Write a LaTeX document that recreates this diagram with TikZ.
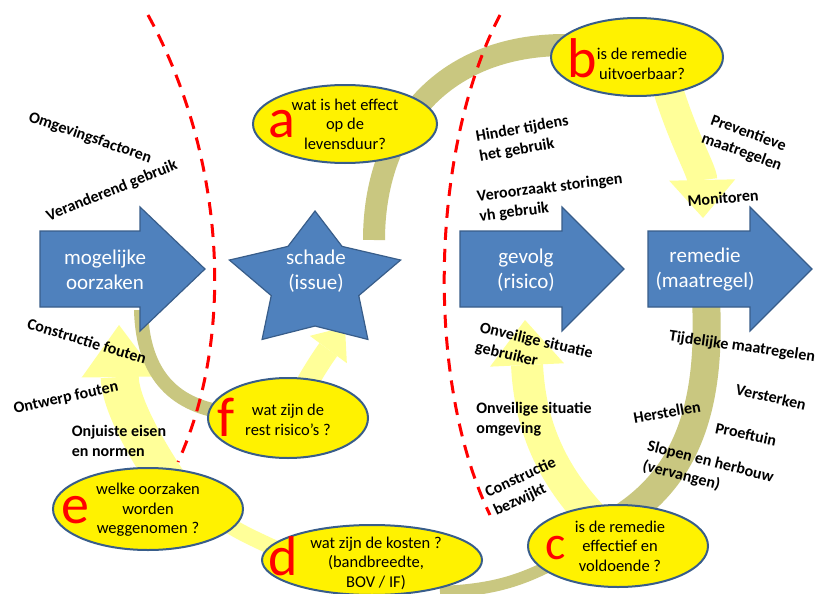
\documentclass[tikz,border=0pt]{standalone}
\usepackage{fontspec}
\setmainfont{Carlito}
\usepackage{tikz}
\usetikzlibrary{positioning}
\usetikzlibrary{arrows.meta, shapes.geometric, calc}

\definecolor{arrowblue}{RGB}{79,129,189}
\definecolor{arrowline}{RGB}{56,93,138}
\definecolor{bandolive}{RGB}{201,199,128}
\definecolor{paleyellow}{RGB}{255,255,153}

\begin{document}
\begin{tikzpicture}[x=1pt, y=-1pt,
	question/.style={ellipse, draw=arrowline, line width=2pt, fill=yellow, inner sep=0pt},
	asktext/.style={align=center, inner sep=0pt, font=\fontsize{16.5}{19.5}\selectfont},
	letter/.style={text=red, inner sep=0pt, font=\fontsize{56}{56}\selectfont},
	cause/.style={align=left, inner sep=0pt, font=\bfseries\fontsize{16}{20}\selectfont},
	blueshape/.style={draw=arrowline, fill=arrowblue, line width=1.2pt},
	bluetext/.style={text=white, align=center, font=\fontsize{21}{25}\selectfont},
	band/.style={draw=bandolive, line width=#1},
	flow/.style={draw=paleyellow, line width=#1},
	divider/.style={draw=red, line width=3pt, dash pattern=on 13pt off 9pt}]
	
	\path[use as bounding box, fill=white] (0,0) rectangle (819,594);
	
	% pale flows
	\draw[flow=30pt, -{Triangle[length=38pt, width=66pt, line width=0pt]}] (665,80) .. controls (683,140) and (702,170) .. (703,218);
	\draw[flow=32pt, -{Triangle[length=45pt, width=74pt, line width=0pt]}] (600,525) .. controls (555,480) and (530,430) .. (525,320);
	\draw[flow=38pt, -{Triangle[length=52pt, width=76pt, line width=0pt]}] (170,485) .. controls (140,440) and (120,400) .. (119,325);
	\draw[flow=22pt, -{Triangle[length=28pt, width=46pt, line width=0pt]}] (298,400) .. controls (312,372) and (328,350) .. (345,327);
	\draw[flow=16pt] (200,505) .. controls (235,530) .. (285,553);
	
	% olive bands
	\draw[band=22pt] (374,240) .. controls (374,130) and (440,45) .. (565,45);
	\draw[band=28pt] (706,300) .. controls (712,420) and (680,490) .. (600,530);
	\draw[band=14pt] (141,310) .. controls (143,385) and (185,408) .. (230,413);
	\draw[band=12pt] (560,560) .. controls (520,582) and (490,590) .. (440,592);
	
	% dashed borders
	\draw[divider] (148,15) .. controls (222,150) and (238,330) .. (178,462);
	\draw[divider] (500,15) .. controls (430,150) and (425,380) .. (490,515);
	
	% blue arrows and star
	\draw[blueshape] (40,231) -- (140,231) -- (140,207) -- (205,269) -- (140,331) -- (140,307) -- (40,307) -- cycle;
	\draw[blueshape] (460,231) -- (562,231) -- (562,207) -- (624,269) -- (562,331) -- (562,307) -- (460,307) -- cycle;
	\draw[blueshape] (648,231) -- (750,231) -- (750,207) -- (812,269) -- (750,331) -- (750,307) -- (648,307) -- cycle;
	\coordinate (sc) at (315,282);
	\draw[blueshape] ($(sc)+(90:90pt and 71pt)$)
		\foreach \a/\rx/\ry in {126/46/44, 162/90/71, 198/46/44, 234/90/71, 270/46/44, 306/90/71, 342/46/44, 18/90/71, 54/46/44}
		{ -- ($(sc)+(\a:\rx pt and \ry pt)$) } -- cycle;
	
	\node[bluetext] (cause) at (105,270) {mogelijke\\oorzaken};
	\node[bluetext] (issue) at (316,271) {schade\\(issue)};
	\node[bluetext] (risk) at (526,270) {gevolg\\(risico)};
	\node[bluetext] (remedy) at (705,270) {remedie\\(maatregel)};
	
	% questions
	\node[question, minimum width=184pt, minimum height=78pt] (qa) at (345,124) {};
	\node[question, minimum width=172pt, minimum height=78pt] (qb) at (637,57) {};
	\node[question, minimum width=180pt, minimum height=82pt] (qc) at (618,546) {};
	\node[question, minimum width=220pt, minimum height=70pt] (qd) at (372,560) {};
	\node[question, minimum width=190pt, minimum height=82pt] (qe) at (148,509) {};
	\node[question, minimum width=160pt, minimum height=80pt] (qf) at (288,418) {};
	
	\node[asktext] (qatext) at (345,124) {wat is het effect\\op de\\levensduur?};
	\node[asktext] (qbtext) at (642,64) {is de remedie\\uitvoerbaar?};
	\node[asktext] (qctext) at (620,546) {is de remedie\\effectief en\\voldoende ?};
	\node[asktext] (qdtext) at (376,563) {wat zijn de kosten ?\\(bandbreedte,\\BOV / IF)};
	\node[asktext] (qetext) at (148,510) {welke oorzaken\\worden\\weggenomen ?};
	\node[asktext] (qftext) at (288,420) {wat zijn de\\rest risico's ?};
	
	\node[letter] (la) at (282,124) {a};
	\node[letter] (lb) at (582,58) {b};
	\node[letter, font=\fontsize{48}{48}\selectfont] (lc) at (556,548) {c};
	\node[letter] (ld) at (283,556) {d};
	\node[letter] (le) at (75,510) {e};
	\node[letter] (lf) at (226,417) {f};
	
	% causes, effects and measures
	\node[cause, rotate=-19] (env) at (90,138) {Omgevingsfactoren};
	\node[cause, rotate=22] (use) at (112,191) {Veranderend gebruik};
	\node[cause, rotate=-17] (constr) at (87,341) {Constructie fouten};
	\node[cause, rotate=12] (design) at (66,398) {Ontwerp fouten};
	\node[cause] (reqs) at (119,441) {Onjuiste eisen\\en normen};
	\node[cause, rotate=10] (hinder) at (524,139) {Hinder tijdens\\het gebruik};
	\node[cause, rotate=7] (fault) at (551,198) {Veroorzaakt storingen\\vh gebruik};
	\node[cause, rotate=-13] (unsafeuser) at (534,351) {Onveilige situatie\\gebruiker};
	\node[cause] (unsafeenv) at (534,419) {Onveilige situatie\\omgeving};
	\node[cause, rotate=25] (collapse) at (525,487) {Constructie\\bezwijkt};
	\node[cause, align=center, rotate=-20] (prevent) at (745,143) {Preventieve\\maatregelen};
	\node[cause, rotate=5] (monitor) at (723,198) {Monitoren};
	\node[cause, rotate=-8] (temp) at (742,347) {Tijdelijke maatregelen};
	\node[cause, rotate=-13] (strengthen) at (771,397) {Versterken};
	\node[cause, rotate=10] (repair) at (667,412) {Herstellen};
	\node[cause, rotate=-12] (trial) at (746,434) {Proeftuin};
	\node[cause, rotate=-14] (rebuild) at (708,472) {Slopen en herbouw\\(vervangen)};
\end{tikzpicture}
\end{document}
